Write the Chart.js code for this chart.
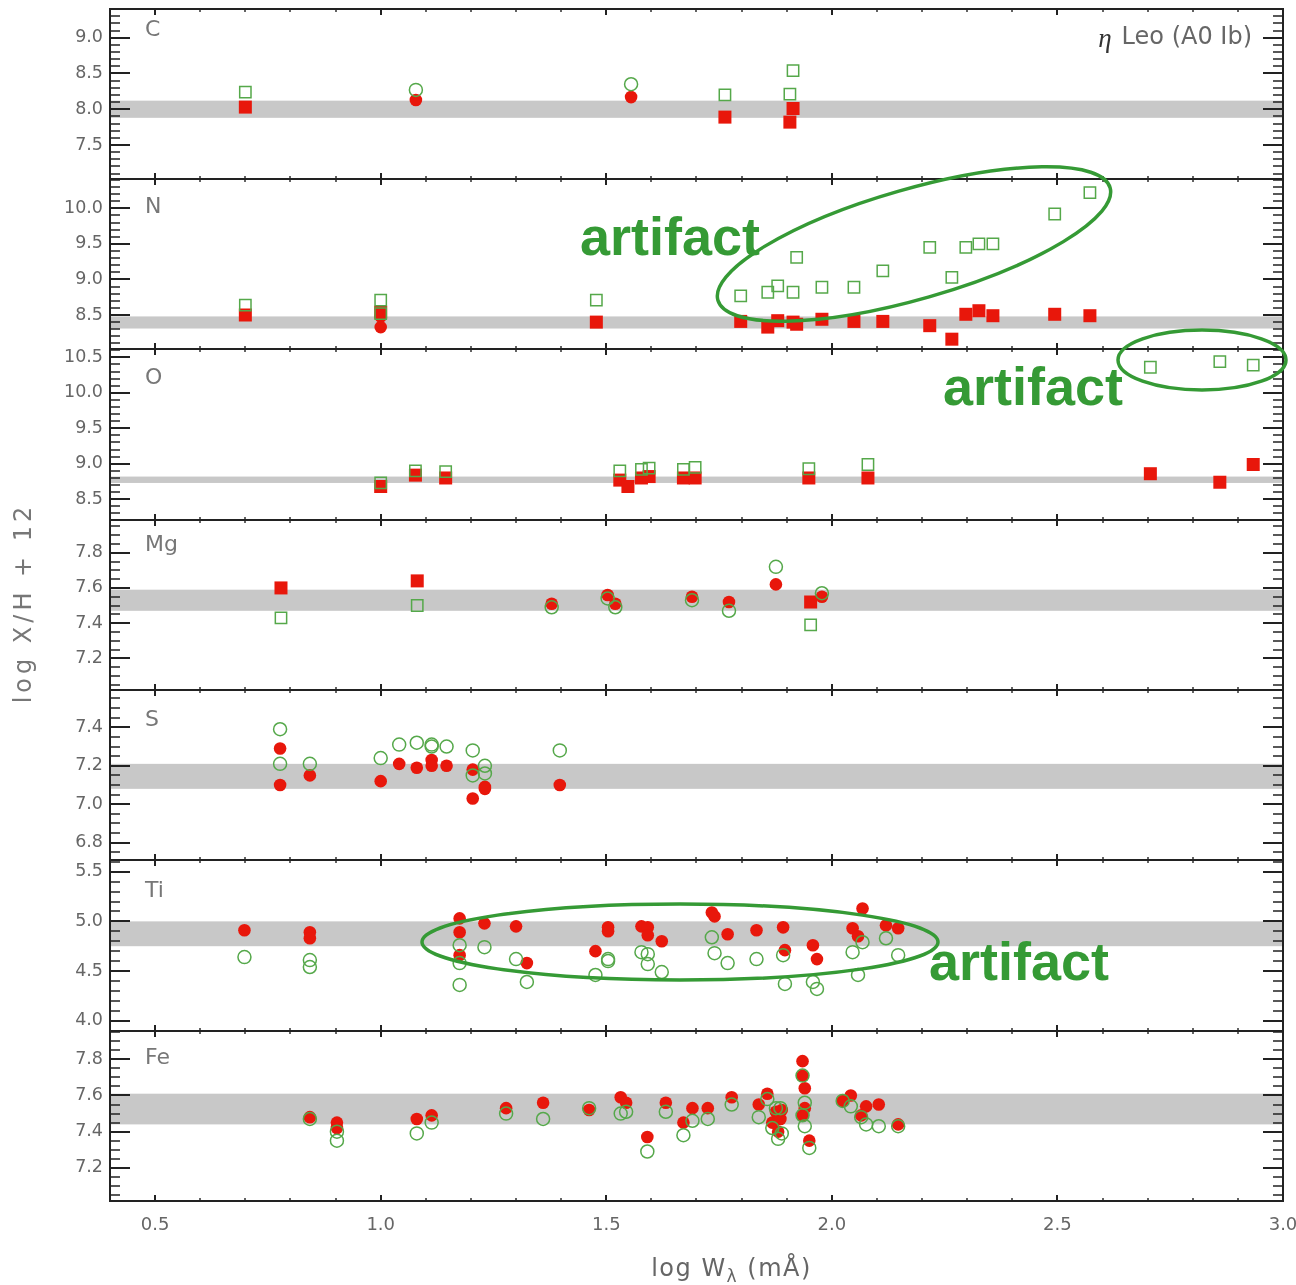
<!DOCTYPE html>
<html>
<head>
<meta charset="utf-8">
<script src="https://cdn.jsdelivr.net/npm/chart.js@4.4.1/dist/chart.umd.min.js"></script>
<style>
  html, body { margin: 0; padding: 0; background: #fff; }
  #fig { position: relative; width: 1296px; height: 1285px; overflow: hidden; }
  .panel { position: absolute; left: 0; width: 1296px; }
  .note { position: absolute; z-index: 3; font: bold 54px "Liberation Sans", Arial, sans-serif; color: #359a35; line-height: 1; white-space: nowrap; }
  #rings { position: absolute; left: 0; top: 0; z-index: 2; }
</style>
</head>
<body>
<div id="fig">
  <svg id="rings" width="1296" height="1285">
    <g fill="none" stroke="#359a35" stroke-width="3.5">
      <ellipse cx="914" cy="244" rx="204" ry="55" transform="rotate(-16 914 244)"/>
      <ellipse cx="1202" cy="360" rx="84" ry="30"/>
      <ellipse cx="680" cy="942" rx="258" ry="38"/>
    </g>
  </svg>
  <div class="note" style="left:580px;top:209px">artifact</div>
  <div class="note" style="left:943px;top:359px">artifact</div>
  <div class="note" style="left:929px;top:934px">artifact</div>
</div>
<script>
// x axis
const xRange = [0.4, 3.0]
const xTicks = [0.5, 1.0, 1.5, 2.0, 2.5, 3.0]

// C
const cRange = [7.025, 9.401]
const cTicks = [7.5, 8.0, 8.5, 9.0]
const cBand = [7.88, 8.12]
const cGreenSq = [[0.70, 8.24], [1.763, 8.20], [1.914, 8.54], [1.907, 8.21]]
const cGreenCirc = [[1.078, 8.27], [1.555, 8.35]]
const cRedSq = [[0.70, 8.03], [1.763, 7.89], [1.914, 8.01], [1.907, 7.82]]
const cRedCirc = [[1.078, 8.13], [1.555, 8.17]]

// N
const nRange = [8.022, 10.412]
const nTicks = [8.5, 9.0, 9.5, 10.0]
const nBand = [8.31, 8.48]
const nGreenSq = [[0.70, 8.64], [1.0, 8.71], [1.0, 8.52], [1.478, 8.71], [1.798, 8.77], [1.858, 8.82],
    [1.880, 8.91], [1.914, 8.82], [1.922, 9.31], [1.978, 8.89], [2.049, 8.89], [2.113, 9.12],
    [2.217, 9.45], [2.266, 9.03], [2.297, 9.45], [2.326, 9.50], [2.357, 9.50], [2.494, 9.92], [2.572, 10.22]]
const nGreenCirc = []
const nRedSq = [[0.70, 8.50], [1.0, 8.54], [1.478, 8.40], [1.798, 8.41], [1.858, 8.33], [1.880, 8.42],
    [1.914, 8.40], [1.922, 8.37], [1.978, 8.44], [2.049, 8.41], [2.113, 8.41], [2.217, 8.35],
    [2.266, 8.16], [2.297, 8.51], [2.326, 8.56], [2.357, 8.49], [2.494, 8.51], [2.572, 8.49]]
const nRedCirc = [[1.0, 8.48], [1.0, 8.33]]

// O
const oRange = [8.208, 10.617]
const oTicks = [8.5, 9.0, 9.5, 10.0, 10.5]
const oBand = [8.73, 8.82]
const oGreenSq = [[1.0, 8.73], [1.077, 8.90], [1.144, 8.89], [1.53, 8.90], [1.578, 8.92], [1.595, 8.94],
    [1.671, 8.92], [1.697, 8.95], [1.949, 8.93], [2.08, 8.99], [2.706, 10.36], [2.860, 10.44], [2.934, 10.39]]
const oGreenCirc = []
const oRedSq = [[1.0, 8.68], [1.077, 8.84], [1.144, 8.80], [1.53, 8.77], [1.548, 8.68], [1.578, 8.80],
    [1.595, 8.82], [1.671, 8.80], [1.697, 8.80], [1.949, 8.80], [2.08, 8.80], [2.706, 8.86], [2.860, 8.74], [2.934, 8.99]]
const oRedCirc = []

// Mg
const mgRange = [7.02, 7.986]
const mgTicks = [7.2, 7.4, 7.6, 7.8]
const mgBand = [7.47, 7.59]
const mgGreenSq = [[0.779, 7.43], [1.081, 7.50], [1.953, 7.39]]
const mgGreenCirc = [[1.379, 7.49], [1.503, 7.54], [1.52, 7.49], [1.69, 7.53], [1.772, 7.47], [1.876, 7.72], [1.978, 7.57]]
const mgRedSq = [[0.779, 7.60], [1.081, 7.64], [1.953, 7.52]]
const mgRedCirc = [[1.379, 7.51], [1.503, 7.56], [1.52, 7.51], [1.69, 7.55], [1.772, 7.52], [1.876, 7.62], [1.978, 7.55]]

// S
const sRange = [6.71, 7.594]
const sTicks = [6.8, 7.0, 7.2, 7.4]
const sBand = [7.08, 7.21]
const sGreenSq = []
const sGreenCirc = [[0.777, 7.39], [0.777, 7.21], [0.843, 7.21], [1.0, 7.24], [1.041, 7.31], [1.08, 7.32],
    [1.113, 7.31], [1.113, 7.30], [1.146, 7.30], [1.204, 7.28], [1.204, 7.15], [1.231, 7.20], [1.231, 7.16], [1.397, 7.28]]
const sRedSq = []
const sRedCirc = [[0.777, 7.29], [0.777, 7.10], [0.843, 7.15], [1.0, 7.12], [1.041, 7.21], [1.08, 7.19],
    [1.113, 7.23], [1.113, 7.20], [1.146, 7.20], [1.204, 7.18], [1.204, 7.03], [1.231, 7.09], [1.231, 7.08], [1.397, 7.10]]

// Ti
const tiRange = [3.896, 5.618]
const tiTicks = [4.0, 4.5, 5.0, 5.5]
const tiBand = [4.75, 5.0]
const tiGreenSq = []
const tiGreenCirc = [[0.698, 4.64], [0.843, 4.61], [0.843, 4.54], [1.175, 4.76], [1.175, 4.58], [1.175, 4.36],
    [1.23, 4.74], [1.30, 4.62], [1.324, 4.39], [1.476, 4.46], [1.504, 4.60], [1.504, 4.62], [1.578, 4.69],
    [1.592, 4.67], [1.592, 4.57], [1.623, 4.49], [1.734, 4.84], [1.740, 4.68], [1.769, 4.58], [1.833, 4.62],
    [1.892, 4.66], [1.896, 4.37], [1.958, 4.39], [1.967, 4.32], [2.046, 4.69], [2.058, 4.46], [2.068, 4.79],
    [2.12, 4.83], [2.147, 4.66]]
const tiRedSq = []
const tiRedCirc = [[0.698, 4.91], [0.843, 4.89], [0.843, 4.83], [1.175, 5.03], [1.175, 4.89], [1.175, 4.66],
    [1.23, 4.98], [1.30, 4.95], [1.324, 4.58], [1.476, 4.70], [1.504, 4.94], [1.504, 4.90], [1.578, 4.95],
    [1.592, 4.94], [1.592, 4.86], [1.623, 4.80], [1.734, 5.09], [1.740, 5.05], [1.769, 4.87], [1.833, 4.91],
    [1.892, 4.94], [1.896, 4.71], [1.958, 4.76], [1.967, 4.62], [2.046, 4.93], [2.058, 4.85], [2.068, 5.13],
    [2.12, 4.96], [2.147, 4.93]]

// Fe
const feRange = [7.016, 7.957]
const feTicks = [7.2, 7.4, 7.6, 7.8]
const feBand = [7.44, 7.61]
const feGreenSq = []
const feGreenCirc = [[0.843, 7.47], [0.903, 7.40], [0.903, 7.35], [1.08, 7.39], [1.113, 7.45], [1.278, 7.50],
    [1.36, 7.47], [1.462, 7.53], [1.532, 7.50], [1.544, 7.51], [1.591, 7.29], [1.632, 7.51], [1.671, 7.38],
    [1.691, 7.46], [1.725, 7.47], [1.778, 7.55], [1.838, 7.48], [1.857, 7.58], [1.868, 7.42], [1.876, 7.53],
    [1.881, 7.36], [1.886, 7.53], [1.889, 7.39], [1.935, 7.71], [1.940, 7.56], [1.940, 7.43], [1.935, 7.49],
    [1.950, 7.31], [2.024, 7.57], [2.042, 7.54], [2.065, 7.48], [2.076, 7.44], [2.104, 7.43], [2.147, 7.43]]
const feRedSq = []
const feRedCirc = [[0.843, 7.48], [0.903, 7.45], [0.903, 7.42], [1.08, 7.47], [1.113, 7.49], [1.278, 7.53],
    [1.36, 7.56], [1.462, 7.52], [1.532, 7.59], [1.544, 7.56], [1.591, 7.37], [1.632, 7.56], [1.671, 7.45],
    [1.691, 7.53], [1.725, 7.53], [1.778, 7.59], [1.838, 7.55], [1.857, 7.61], [1.868, 7.45], [1.876, 7.51],
    [1.881, 7.40], [1.886, 7.47], [1.889, 7.52], [1.935, 7.79], [1.935, 7.71], [1.940, 7.64], [1.940, 7.53],
    [1.935, 7.49], [1.950, 7.35], [2.024, 7.57], [2.042, 7.60], [2.065, 7.49], [2.076, 7.54], [2.104, 7.55], [2.147, 7.44]]

const panels = [
    {label: 'C', labelDy: 21, range: cRange, ticks: cTicks, minor: 0.1, band: cBand, gs: cGreenSq, gc: cGreenCirc, rs: cRedSq, rc: cRedCirc},
    {label: 'N', labelDy: 28, range: nRange, ticks: nTicks, minor: 0.1, band: nBand, gs: nGreenSq, gc: nGreenCirc, rs: nRedSq, rc: nRedCirc},
    {label: 'O', labelDy: 29, range: oRange, ticks: oTicks, minor: 0.1, band: oBand, gs: oGreenSq, gc: oGreenCirc, rs: oRedSq, rc: oRedCirc},
    {label: 'Mg', labelDy: 25, range: mgRange, ticks: mgTicks, minor: 0.05, band: mgBand, gs: mgGreenSq, gc: mgGreenCirc, rs: mgRedSq, rc: mgRedCirc},
    {label: 'S', labelDy: 30, range: sRange, ticks: sTicks, minor: 0.05, band: sBand, gs: sGreenSq, gc: sGreenCirc, rs: sRedSq, rc: sRedCirc},
    {label: 'Ti', labelDy: 31, range: tiRange, ticks: tiTicks, minor: 0.1, band: tiBand, gs: tiGreenSq, gc: tiGreenCirc, rs: tiRedSq, rc: tiRedCirc},
    {label: 'Fe', labelDy: 27, range: feRange, ticks: feTicks, minor: 0.05, band: feBand, gs: feGreenSq, gc: feGreenCirc, rs: feRedSq, rc: feRedCirc},
]

const RED = '#e8170b'
const GREEN = '#55a84a'
const TEXT = '#666'
const tops = [9, 179, 349, 520, 690, 860, 1031]
const bottomEdge = 1201
const PAD = 24

function isMajor(v, list) {
    return list.some(t => Math.abs(t - v) < 1e-6)
}

function spacedText(ctx, text, x, y, spacing) {
    // canvas letterSpacing where supported, else plain
    ctx.letterSpacing = spacing + 'px'
    ctx.fillText(text, x, y)
    ctx.letterSpacing = '0px'
}

const panelDecor = {
    id: 'panelDecor',
    beforeDatasetsDraw(chart, args, o) {
        let ctx = chart.ctx
        let a = chart.chartArea
        let y = chart.scales.y
        let t = y.getPixelForValue(o.band[1])
        let b = y.getPixelForValue(o.band[0])
        ctx.save()
        ctx.fillStyle = '#c8c8c8'
        ctx.fillRect(a.left, t, a.right - a.left, b - t)
        ctx.restore()
    },
    afterDraw(chart, args, o) {
        let ctx = chart.ctx
        let a = chart.chartArea
        let x = chart.scales.x
        let y = chart.scales.y
        ctx.save()
        ctx.strokeStyle = '#222'

        // y ticks, both sides, pointing in
        let k0 = Math.ceil(o.range[0] / o.minor - 1e-6)
        let k1 = Math.floor(o.range[1] / o.minor + 1e-6)
        for (let k = k0; k <= k1; k++) {
            let v = k * o.minor
            let major = isMajor(v, o.ticks)
            let len = major ? 20 : 10
            let py = Math.round(y.getPixelForValue(v))
            ctx.lineWidth = major ? 2 : 1.6
            ctx.beginPath()
            ctx.moveTo(a.left, py)
            ctx.lineTo(a.left + len, py)
            ctx.moveTo(a.right, py)
            ctx.lineTo(a.right - len, py)
            ctx.stroke()
        }

        // x ticks on top and bottom edges
        for (let k = 4; k <= 30; k++) {
            let v = k / 10
            let major = isMajor(v, xTicks)
            let len = major ? 6 : 3
            let px = Math.round(x.getPixelForValue(v))
            ctx.lineWidth = major ? 2 : 1.4
            ctx.beginPath()
            ctx.moveTo(px, a.top)
            ctx.lineTo(px, a.top + len)
            ctx.moveTo(px, a.bottom)
            ctx.lineTo(px, a.bottom - len)
            ctx.stroke()
        }

        ctx.lineWidth = 2
        ctx.strokeRect(a.left, a.top, a.right - a.left, a.bottom - a.top)

        // element label
        ctx.fillStyle = '#777'
        ctx.font = '22px "DejaVu Sans"'
        ctx.textBaseline = 'middle'
        ctx.textAlign = 'left'
        ctx.fillText(o.label, a.left + 35, a.top + o.labelDy)

        if (o.star) {
            ctx.textAlign = 'right'
            ctx.font = '24px "DejaVu Sans"'
            ctx.fillStyle = '#666'
            let rx = a.right - 31
            ctx.fillText('Leo (A0 Ib)', rx, a.top + 29)
            let w = ctx.measureText('Leo (A0 Ib)').width
            ctx.font = 'italic 27px "Liberation Serif"'
            ctx.fillStyle = '#333'
            ctx.fillText('\u03b7', rx - w - 10, a.top + 31)
        }

        if (o.yTitle) {
            ctx.save()
            ctx.translate(25, (a.top + a.bottom) / 2)
            ctx.rotate(-Math.PI / 2)
            ctx.font = '24px "DejaVu Sans"'
            ctx.fillStyle = '#777'
            ctx.textAlign = 'center'
            ctx.textBaseline = 'middle'
            spacedText(ctx, o.yTitle, 2, 0, 4)
            ctx.restore()
        }

        if (o.xTitle) {
            let cx = (a.left + a.right) / 2 + o.xTitleShift
            let base = a.bottom + 75
            let parts = [['log W', '24px "DejaVu Sans"', 0], ['\u03bb', '17px "DejaVu Sans"', 6], [' (m\u00c5)', '24px "DejaVu Sans"', 0]]
            ctx.letterSpacing = '1.5px'
            let total = 0
            parts.forEach(p => { ctx.font = p[1]; total += ctx.measureText(p[0]).width })
            let px = cx - total / 2
            ctx.fillStyle = TEXT
            ctx.textAlign = 'left'
            ctx.textBaseline = 'alphabetic'
            parts.forEach(p => {
                ctx.font = p[1]
                ctx.fillText(p[0], px, base + p[2])
                px += ctx.measureText(p[0]).width
            })
            ctx.letterSpacing = '0px'
        }
        ctx.restore()
    }
}

function makeSet(points, style, green) {
    return {
        data: points.map(p => ({x: p[0], y: p[1]})),
        pointStyle: style,
        pointRadius: style === 'rect' ? (green ? 8 : 9.2) : (green ? 6.5 : 6.3),
        backgroundColor: green ? 'rgba(0,0,0,0)' : RED,
        borderColor: green ? GREEN : RED,
        borderWidth: green ? 1.5 : 0,
        showLine: false
    }
}

let fig = document.getElementById('fig')

panels.forEach((p, i) => {
    let last = i === panels.length - 1
    let top = tops[i]
    let h = (last ? bottomEdge : tops[i + 1]) - top
    let divH = last ? 1285 - (top - PAD) : h + 2 * PAD

    let div = document.createElement('div')
    div.className = 'panel'
    div.style.top = (top - PAD) + 'px'
    div.style.height = divH + 'px'
    let canvas = document.createElement('canvas')
    canvas.width = 1296
    canvas.height = divH
    div.appendChild(canvas)
    fig.insertBefore(div, fig.firstChild)

    // green drawn last so it sits on top of the red marks
    let datasets = [
        makeSet(p.gs, 'rect', true),
        makeSet(p.gc, 'circle', true),
        makeSet(p.rs, 'rect', false),
        makeSet(p.rc, 'circle', false),
    ]

    new Chart(canvas, {
        type: 'scatter',
        data: {datasets: datasets},
        plugins: [panelDecor],
        options: {
            responsive: false,
            animation: false,
            events: [],
            layout: {padding: {top: PAD, bottom: last ? 0 : PAD, left: 0, right: 13}},
            scales: {
                x: {
                    type: 'linear',
                    min: xRange[0],
                    max: xRange[1],
                    display: last,
                    afterBuildTicks: s => { s.ticks = xTicks.map(v => ({value: v})) },
                    afterFit: s => {
                        if (!last) return
                        s.height = 1285 - bottomEdge
                        s.paddingLeft = 0
                        s.paddingRight = 0
                    },
                    grid: {display: false, drawTicks: false},
                    border: {display: false},
                    ticks: {
                        padding: 14,
                        color: TEXT,
                        font: {family: 'DejaVu Sans', size: 18},
                        maxRotation: 0,
                        autoSkip: false,
                        callback: v => v.toFixed(1)
                    }
                },
                y: {
                    type: 'linear',
                    min: p.range[0],
                    max: p.range[1],
                    afterBuildTicks: s => { s.ticks = p.ticks.map(v => ({value: v})) },
                    afterFit: s => {
                        s.width = 110
                        s.paddingTop = 0
                        s.paddingBottom = 0
                    },
                    grid: {display: false, drawTicks: false},
                    border: {display: false},
                    ticks: {
                        padding: 7,
                        color: TEXT,
                        font: {family: 'DejaVu Sans', size: 17.5},
                        callback: v => v.toFixed(1)
                    }
                }
            },
            plugins: {
                legend: {display: false},
                tooltip: {enabled: false},
                panelDecor: {
                    label: p.label,
                    labelDy: p.labelDy,
                    range: p.range,
                    ticks: p.ticks,
                    minor: p.minor,
                    band: p.band,
                    star: i === 0,
                    yTitle: i === 3 ? 'log X/H + 12' : null,
                    xTitle: last,
                    xTitleShift: 35
                }
            }
        }
    })
})
</script>
</body>
</html>
